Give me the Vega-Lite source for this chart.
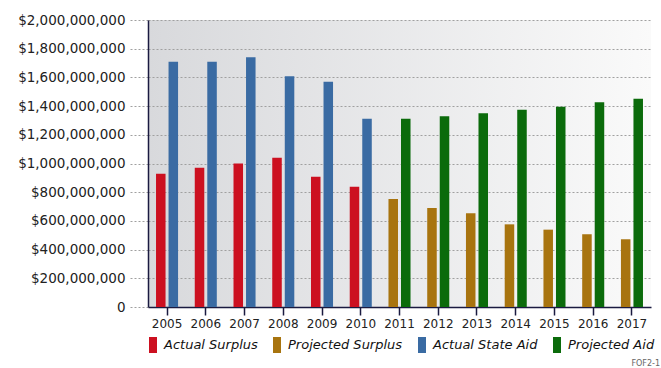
{
  "$schema": "https://vega.github.io/schema/vega-lite/v6.json",
  "width": 503,
  "height": 287,
  "padding": {"left": 148, "top": 20, "right": 10, "bottom": 61},
  "autosize": {"type": "none"},
  "background": "#ffffff",
  "config": {
    "font": "DejaVu Sans",
    "view": {
      "stroke": null,
      "fill": {"gradient": "linear", "x1": 0, "x2": 1, "y1": 0, "y2": 0,
        "stops": [{"offset": 0, "color": "#d8d9dc"}, {"offset": 1, "color": "#fafafa"}]}
    }
  },
  "title": {"text": "FOF2-1", "orient": "bottom", "anchor": "end", "fontSize": 8, "fontWeight": "normal", "color": "#666666", "offset": 7, "dx": 5},
  "data": {"values": [
    {"year": "2005", "kind": "surplus", "series": "Actual Surplus", "value": 929000000},
    {"year": "2005", "kind": "aid", "series": "Actual State Aid", "value": 1709000000},
    {"year": "2006", "kind": "surplus", "series": "Actual Surplus", "value": 971000000},
    {"year": "2006", "kind": "aid", "series": "Actual State Aid", "value": 1709000000},
    {"year": "2007", "kind": "surplus", "series": "Actual Surplus", "value": 1000000000},
    {"year": "2007", "kind": "aid", "series": "Actual State Aid", "value": 1740000000},
    {"year": "2008", "kind": "surplus", "series": "Actual Surplus", "value": 1040000000},
    {"year": "2008", "kind": "aid", "series": "Actual State Aid", "value": 1608000000},
    {"year": "2009", "kind": "surplus", "series": "Actual Surplus", "value": 908000000},
    {"year": "2009", "kind": "aid", "series": "Actual State Aid", "value": 1570000000},
    {"year": "2010", "kind": "surplus", "series": "Actual Surplus", "value": 838000000},
    {"year": "2010", "kind": "aid", "series": "Actual State Aid", "value": 1312000000},
    {"year": "2011", "kind": "surplus", "series": "Projected Surplus", "value": 753000000},
    {"year": "2011", "kind": "aid", "series": "Projected Aid", "value": 1312000000},
    {"year": "2012", "kind": "surplus", "series": "Projected Surplus", "value": 690000000},
    {"year": "2012", "kind": "aid", "series": "Projected Aid", "value": 1329000000},
    {"year": "2013", "kind": "surplus", "series": "Projected Surplus", "value": 653000000},
    {"year": "2013", "kind": "aid", "series": "Projected Aid", "value": 1350000000},
    {"year": "2014", "kind": "surplus", "series": "Projected Surplus", "value": 576000000},
    {"year": "2014", "kind": "aid", "series": "Projected Aid", "value": 1375000000},
    {"year": "2015", "kind": "surplus", "series": "Projected Surplus", "value": 539000000},
    {"year": "2015", "kind": "aid", "series": "Projected Aid", "value": 1396000000},
    {"year": "2016", "kind": "surplus", "series": "Projected Surplus", "value": 507000000},
    {"year": "2016", "kind": "aid", "series": "Projected Aid", "value": 1426000000},
    {"year": "2017", "kind": "surplus", "series": "Projected Surplus", "value": 472000000},
    {"year": "2017", "kind": "aid", "series": "Projected Aid", "value": 1452000000}
  ]},
  "mark": {"type": "bar"},
  "encoding": {
    "x": {
      "field": "year", "type": "ordinal",
      "scale": {"paddingInner": 0.431, "paddingOuter": 0.207},
      "axis": {
        "title": null, "labelAngle": 0, "labelFontSize": 12, "labelColor": "#222222",
        "domainColor": "#1a1a40", "domainWidth": 1.5, "tickColor": "#1a1a40", "tickSize": 8, "tickWidth": 1.5,
        "labelPadding": 3, "grid": false
      }
    },
    "xOffset": {
      "field": "kind", "type": "nominal", "sort": ["surplus", "aid"],
      "scale": {"paddingInner": 0.24, "paddingOuter": 0}
    },
    "y": {
      "field": "value", "type": "quantitative",
      "scale": {"domain": [0, 2000000000], "nice": false},
      "axis": {
        "title": null, "values": [0, 200000000, 400000000, 600000000, 800000000, 1000000000, 1200000000, 1400000000, 1600000000, 1800000000, 2000000000],
        "labelExpr": "datum.value == 0 ? '0' : '$' + format(datum.value, ',')",
        "labelFontSize": 13.5, "labelColor": "#222222", "labelPadding": 3,
        "tickSize": 20, "tickColor": "#a0a0a0", "tickDash": [2, 2], "tickWidth": 1,
        "gridColor": "#a0a0a0", "gridDash": [2, 2], "gridWidth": 1,
        "domainColor": "#1a1a40", "domainWidth": 1.5
      }
    },
    "color": {
      "field": "series", "type": "nominal",
      "scale": {
        "domain": ["Actual Surplus", "Projected Surplus", "Actual State Aid", "Projected Aid"],
        "range": ["#cc1020", "#a8740f", "#3a6ba3", "#0b6b0b"]
      },
      "legend": {
        "title": null, "orient": "none", "legendX": -3, "legendY": 317, "direction": "horizontal",
        "symbolType": "M-0.5,-1L0.5,-1L0.5,1L-0.5,1Z", "symbolSize": 256,
        "symbolStrokeWidth": 0, "labelFontSize": 13, "labelFontStyle": "italic",
        "labelColor": "#111111", "labelOffset": 3, "columnPadding": 11
      }
    }
  }
}
